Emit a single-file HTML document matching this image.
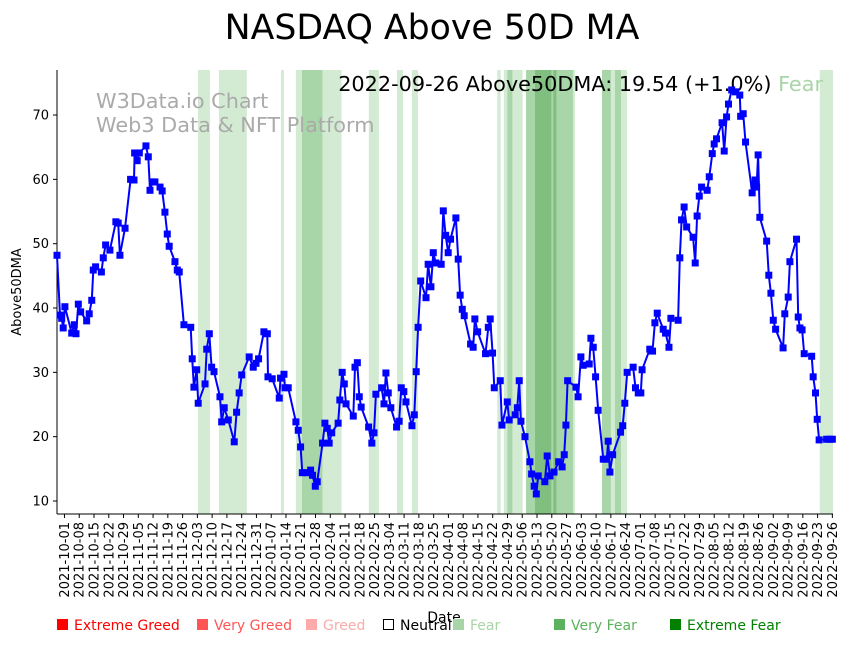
<!DOCTYPE html>
<html><head><meta charset="utf-8"><style>
body{margin:0;background:#fff;width:852px;height:642px;overflow:hidden;font-family:"Liberation Sans","DejaVu Sans",sans-serif}
svg text{font-family:"DejaVu Sans","Liberation Sans",sans-serif}
</style></head><body>
<svg id="chart" width="852" height="642" xmlns="http://www.w3.org/2000/svg">
<text x="432" y="39" text-anchor="middle" font-size="34.7" fill="#000">NASDAQ Above 50D MA</text>
<g id="bands"></g>
<g fill="#aaaaaa" font-size="20.8">
<text x="96" y="108">W3Data.io Chart</text>
<text x="96" y="132">Web3 Data &amp; NFT Platform</text>
</g>
<text x="823" y="91" text-anchor="end" font-size="20.8" fill="#000">2022-09-26 Above50DMA: 19.54 (+1.0%) <tspan fill="#a8d5a8">Fear</tspan></text>
<g id="axes"></g>
<g id="series"></g>
<text transform="translate(21,292) rotate(-90)" text-anchor="middle" font-size="13">Above50DMA</text>
<text x="444" y="622" text-anchor="middle" font-size="14">Date</text>
<g font-size="14">
<g><rect x="57" y="619" width="11" height="11" fill="#ff0000"/><text x="74" y="630" fill="#ff0000">Extreme Greed</text></g>
<g><rect x="197" y="619" width="11" height="11" fill="#ff5555"/><text x="214" y="630" fill="#ff5555">Very Greed</text></g>
<g><rect x="306" y="619" width="11" height="11" fill="#ffaaaa"/><text x="323" y="630" fill="#ffaaaa">Greed</text></g>
<g><rect x="383.5" y="619.5" width="10" height="10" fill="#fff" stroke="#000"/><text x="400" y="630" fill="#000">Neutral</text></g>
<g><rect x="453" y="619" width="11" height="11" fill="#a8d5a8"/><text x="470" y="630" fill="#a8d5a8">Fear</text></g>
<g><rect x="554" y="619" width="11" height="11" fill="#5cb25c"/><text x="571" y="630" fill="#5cb25c">Very Fear</text></g>
<g><rect x="670" y="619" width="11" height="11" fill="#008000"/><text x="687" y="630" fill="#008000">Extreme Fear</text></g>
</g>
</svg>
<script>
// days since 2021-10-01
const dayOffsets=[-3.5,-2.1,-1.3,-0.6,0.2,3.4,4.6,5.4,6.5,7.6,10.4,11.6,12.8,13.5,14.6,17.3,18.2,19.3,21.3,24.1,25.2,26.0,28.4,31.0,32.6,32.9,34.1,35.1,38.2,39.3,40.1,41.3,42.4,44.8,45.8,47.1,48.2,49.1,51.8,52.9,53.8,56.0,59.2,59.9,60.7,62.0,62.7,65.9,66.7,67.9,69.0,70.1,72.9,73.7,74.9,76.8,79.6,80.7,81.9,83.1,86.6,88.5,89.8,91.0,93.5,95.1,95.4,97.4,100.7,101.3,102.9,103.4,104.9,108.5,109.6,110.7,111.5,113.5,115.4,116.3,117.6,118.5,121.0,122.1,123.2,124.1,125.3,128.3,129.1,130.2,131.2,132.0,135.4,136.2,137.3,138.2,139.1,142.6,144.1,145.1,146.0,148.7,149.8,150.7,151.8,153.0,155.7,156.9,157.9,159.1,160.1,162.9,164.0,164.9,165.8,167.0,169.5,170.5,171.8,172.9,174.1,176.6,177.6,178.7,179.9,181.0,183.5,184.6,185.5,186.5,187.4,190.4,191.6,192.4,193.7,197.4,198.7,199.6,200.7,201.5,204.3,205.1,207.6,208.5,211.3,212.3,213.2,214.0,215.9,218.2,219.0,220.2,221.2,222.1,225.2,226.3,227.6,229.5,231.7,233.3,234.3,235.1,235.9,239.8,240.8,242.1,243.2,246.0,246.8,247.9,249.0,250.2,252.6,254.2,254.9,255.7,257.0,260.7,261.7,262.7,263.8,266.6,267.7,269.0,270.2,270.8,274.4,275.7,276.8,277.9,280.7,281.8,283.4,284.3,287.7,288.5,289.3,290.5,291.7,294.7,295.7,296.6,297.6,298.7,301.3,302.3,303.7,304.6,305.7,308.3,309.3,310.4,311.3,312.8,314.6,316.6,317.0,318.2,319.3,322.4,323.2,323.8,324.5,325.2,326.0,329.2,330.2,331.2,332.3,333.4,336.9,337.7,339.3,340.1,343.2,344.0,344.8,345.8,346.8,350.3,351.0,352.1,352.9,353.8,357.3,358.8,360.0];
const values=[48.2,38.9,38.4,36.9,40.2,36.1,37.4,36.0,40.6,39.4,38.0,39.1,41.2,45.9,46.4,45.6,47.8,49.8,49.0,53.4,53.2,48.2,52.4,60.0,59.9,64.1,62.9,64.1,65.2,63.5,58.3,59.6,59.6,58.8,58.2,54.9,51.5,49.6,47.2,45.9,45.6,37.4,37.0,32.1,27.7,30.4,25.2,28.2,33.6,36.0,30.8,30.1,26.2,22.3,24.5,22.6,19.2,23.8,26.8,29.6,32.4,30.8,31.4,32.1,36.3,36.0,29.3,29.0,26.0,29.1,29.7,27.6,27.6,22.3,21.0,18.4,14.4,14.4,14.8,14.0,12.3,13.0,19.0,22.1,21.3,19.0,20.6,22.1,25.7,30.0,28.2,25.1,23.2,30.8,31.5,26.2,24.6,21.5,19.0,20.6,26.6,27.6,25.1,29.9,26.8,24.5,21.5,22.4,27.6,27.0,25.4,21.7,23.4,30.1,37.0,44.2,41.6,46.8,43.3,48.6,47.0,46.8,55.1,51.3,48.6,50.7,54.0,47.6,42.0,39.8,38.8,34.4,33.9,38.3,36.3,32.9,37.0,38.3,33.0,27.6,28.7,21.8,25.4,22.6,23.4,24.5,28.7,22.4,20.0,16.1,14.2,12.3,11.1,13.9,13.0,17.0,13.9,14.5,16.1,15.3,17.2,21.8,28.7,27.7,26.2,32.4,31.1,31.3,35.3,33.9,29.3,24.1,16.5,16.5,19.3,14.5,17.2,20.7,21.7,25.2,30.0,30.8,27.6,26.8,26.8,30.4,33.6,33.3,37.7,39.2,36.7,36.1,33.9,38.4,38.1,47.8,53.7,55.7,52.6,51.0,47.0,54.3,57.4,58.8,58.3,60.4,64.0,65.5,66.3,68.8,64.4,69.7,71.7,73.9,73.6,73.1,69.8,70.2,65.8,57.9,59.1,59.9,58.8,63.8,54.1,50.4,45.1,42.3,38.1,36.7,33.8,39.1,41.7,47.2,50.7,38.6,36.9,36.6,32.9,32.5,29.3,26.8,22.7,19.5,19.6,19.6,19.6];
const yTicks=[10,20,30,40,50,60,70];
const xTickLabels=["2021-10-01","2021-10-08","2021-10-15","2021-10-22","2021-10-29","2021-11-05","2021-11-12","2021-11-19","2021-11-26","2021-12-03","2021-12-10","2021-12-17","2021-12-24","2021-12-31","2022-01-07","2022-01-14","2022-01-21","2022-01-28","2022-02-04","2022-02-11","2022-02-18","2022-02-25","2022-03-04","2022-03-11","2022-03-18","2022-03-25","2022-04-01","2022-04-08","2022-04-15","2022-04-22","2022-04-29","2022-05-06","2022-05-13","2022-05-20","2022-05-27","2022-06-03","2022-06-10","2022-06-17","2022-06-24","2022-07-01","2022-07-08","2022-07-15","2022-07-22","2022-07-29","2022-08-05","2022-08-12","2022-08-19","2022-08-26","2022-09-02","2022-09-09","2022-09-16","2022-09-23","2022-09-26"];
const bandStarts=[62.6,72.4,101.5,108.5,111.3,121.0,142.7,155.9,162.9,202.9,206.0,207.6,210.1,216.4,220.6,228.4,229.1,230.7,238.4,252.0,256.2,258.1,260.9,354.1];
const bandEnds=[68.2,85.5,102.9,111.3,121.0,129.9,147.4,158.7,165.7,204.5,207.6,210.1,214.8,220.6,228.4,229.1,230.7,238.4,239.3,256.2,258.1,260.9,263.7,360.3];
const bandLevels=[1,1,1,1,2,1,1,1,1,1,1,2,1,2,3,2,3,2,1,2,1,2,1,1];

const L=57,R=833,T=70,B=514,D0=-3.5,D1=360.3;
const X=d=>L+(d-D0)*(R-L)/(D1-D0);
const Y=v=>501-(v-10)*6.433;
const NS="http://www.w3.org/2000/svg";
function mk(tag,attrs,parent){const e=document.createElementNS(NS,tag);for(const k in attrs)e.setAttribute(k,attrs[k]);parent.appendChild(e);return e;}
const bandColors=["#fff","#d4ebd3","#a9d6a8","#81bf80"];
const gB=document.getElementById('bands');
bandStarts.forEach((s,i)=>{
  const r=mk('rect',{x:X(s),y:T,width:X(bandEnds[i])-X(s),height:B-T,fill:bandColors[bandLevels[i]]},gB);
  
  
});
const gA=document.getElementById('axes');
let a=mk('line',{x1:L,y1:T,x2:L,y2:B,stroke:'#000','stroke-width':1},gA);


a=mk('line',{x1:L,y1:B,x2:R,y2:B,stroke:'#000','stroke-width':1},gA);


yTicks.forEach(v=>{
  mk('line',{x1:L-4,y1:Y(v),x2:L,y2:Y(v),stroke:'#000'},gA);
  const t=mk('text',{x:L-8,y:Y(v)+4.5,'text-anchor':'end','font-size':13},gA);
  t.textContent=v;
  
  
});
const nT=xTickLabels.length;
xTickLabels.forEach((lab,i)=>{
  const x=X(i*360/(nT-1));
  mk('line',{x1:x,y1:B,x2:x,y2:B+4,stroke:'#000'},gA);
  const t=mk('text',{transform:`translate(${x+4.5},${B+8}) rotate(-90)`,'text-anchor':'end','font-size':13},gA);
  t.textContent=lab;
  
  
});
const gS=document.getElementById('series');
const pts=dayOffsets.map((d,i)=>X(d).toFixed(1)+','+Y(values[i]).toFixed(1)).join(' ');
const pl=mk('polyline',{points:pts,fill:'none',stroke:'#0000ff','stroke-width':2,'stroke-linejoin':'round'},gS);


dayOffsets.forEach((d,i)=>{
  const m=mk('rect',{x:X(d)-3.5,y:Y(values[i])-3.5,width:7,height:7,fill:'#0000ff'},gS);
  
  
});
</script>
</body></html>
